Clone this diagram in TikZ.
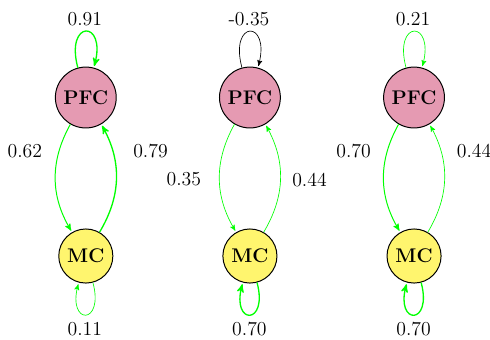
\documentclass[tikz,border=0pt]{standalone}
\usepackage{tikz}
\usetikzlibrary{arrows}

\definecolor{pfcpink}{RGB}{229,154,178}
\definecolor{mcyellow}{RGB}{255,245,110}

\begin{document}
\begin{tikzpicture}[->,>=stealth',shorten >=1pt,auto,font=\large,
  pfc node/.style={circle,fill=pfcpink,draw,semithick,font=\large\bfseries},
  mc node/.style={circle,fill=mcyellow,draw,semithick,font=\large\bfseries}]

  \useasboundingbox (0,0) rectangle (10.45,7.23);

  \node[pfc node] (p1) at (1.83,5.15) {PFC};
  \node[pfc node] (p2) at (5.33,5.15) {PFC};
  \node[pfc node] (p3) at (8.83,5.15) {PFC};

  \node[mc node] (m1) at (1.83,1.77) {MC};
  \node[mc node] (m2) at (5.33,1.77) {MC};
  \node[mc node] (m3) at (8.83,1.77) {MC};

  \node(l1) at (1.81,6.83) {0.91};
  \node(a1) at (0.53,4.00) {0.62};
  \node(b1) at (3.21,4.00) {0.79};
  \node(r1) at (1.81,0.22) {0.11};

  \node(l2) at (5.31,6.83) {-0.35};
  \node(a2) at (3.92,3.40) {0.35};
  \node(b2) at (6.60,3.40) {0.44};
  \node(r2) at (5.32,0.22) {0.70};

  \node(l3) at (8.81,6.83) {0.21};
  \node(a3) at (7.54,4.00) {0.70};
  \node(b3) at (10.11,4.00) {0.44};
  \node(r3) at (8.82,0.22) {0.70};

  \path[green]
    (p1) edge[loop above,thick] node {} (p1)
    (p1) edge[bend right=30,semithick] node {} (m1)
    (m1) edge[bend right=30,thick] node {} (p1)
    (m1) edge[loop below,thin] node {} (m1)

    (p2) edge[loop above,thin,black] node {} (p2)
    (p2) edge[bend right=30,thin] node {} (m2)
    (m2) edge[bend right=30,thin] node {} (p2)
    (m2) edge[loop below,thick] node {} (m2)

    (p3) edge[loop above,thin] node {} (p3)
    (p3) edge[bend right=30,semithick] node {} (m3)
    (m3) edge[bend right=30,thin] node {} (p3)
    (m3) edge[loop below,thick] node {} (m3)
    ;
\end{tikzpicture}
\end{document}
